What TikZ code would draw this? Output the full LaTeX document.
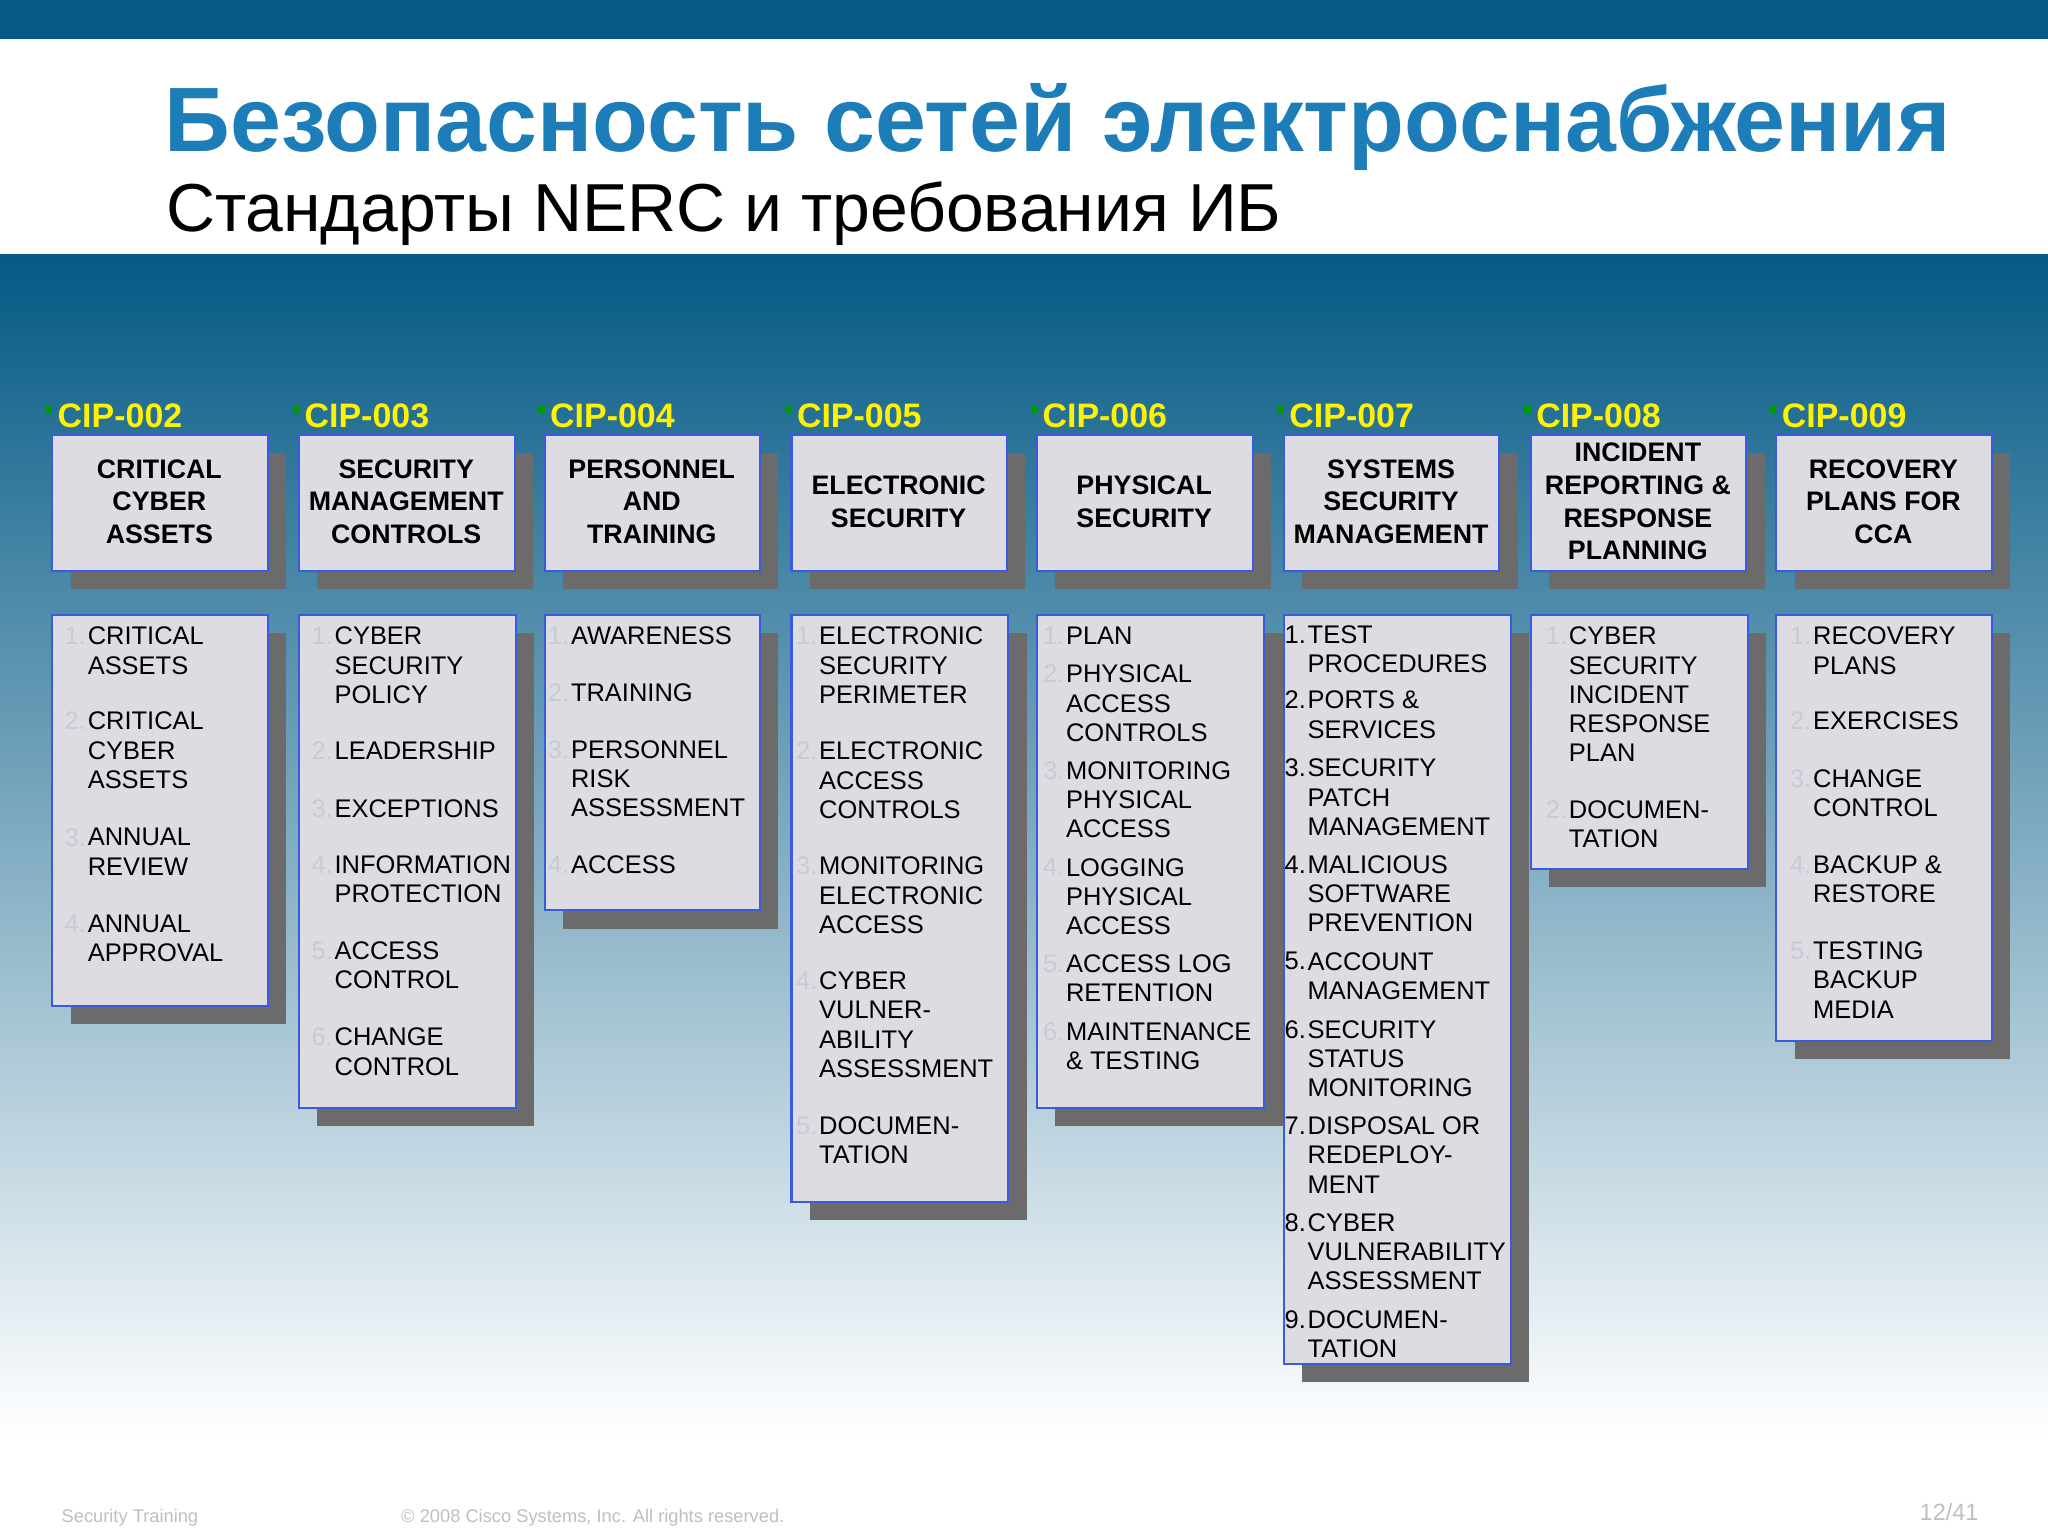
\documentclass[tikz,border=0pt]{standalone}
\usepackage{fontspec}
\setmainfont{Liberation Sans}
\definecolor{topbar}{HTML}{045A85}
\definecolor{ttl}{HTML}{1C7DB8}
\definecolor{bxfill}{HTML}{DCDCE2}
\definecolor{bxline}{HTML}{3A5BE0}
\definecolor{pale}{HTML}{C9CAD6}
\definecolor{cipy}{HTML}{FFF200}
\newcommand\numcol{pale}
\newcommand\li[5]{\node[item,anchor=north west] at (#1,{#3-8}) {#5};
  \node[item,text=\numcol,anchor=north east] at ({#1-1},{#3-8}) {#4.};}
\newcommand\col[6]{% left, name, header, bottom, headlines y, list width
  \fill[black!58] ({#1+14},347) rectangle ({#1+179},451);
  \fill[black!58] ({#1+14},485) rectangle ({#1+#6+14},{#4+14});
  \draw[box] (#1,333) rectangle ({#1+165},437);
  \draw[box] (#1,471) rectangle ({#1+#6},#4);
  \node[head] at ({#1+82},#5) {#3};
  \fill[green!60!black] ({#1-5},311) rectangle ({#1},316);
  \node[cip,anchor=base west] at ({#1+4},327) {#2};}
\begin{document}
\begin{tikzpicture}[x=1pt,y=-1pt,
  box/.style={fill=bxfill,draw=bxline,line width=1.6pt},
  item/.style={inner sep=0pt,align=left,font=\fontsize{19.5}{22.3}\selectfont},
  head/.style={inner sep=0pt,align=center,font=\bfseries\fontsize{20.5}{25}\selectfont},
  cip/.style={inner sep=0pt,text=cipy,font=\bfseries\fontsize{26}{28}\selectfont}]
\useasboundingbox (0,0) rectangle (1568,1176);
\fill[white] (0,0) rectangle (1568,1176);
\fill[topbar] (0,0) rectangle (1568,30);
\shade[top color=topbar,bottom color=white,middle color=topbar!50] (0,195) rectangle (1568,1100);
\fill[white] (0,1099) rectangle (1568,1176);
\node[anchor=base west,inner sep=0pt,text=ttl,font=\bfseries\fontsize{70}{74}\selectfont] (title) at (126,116) {Безопасность сетей электроснабжения};
\node[anchor=base west,inner sep=0pt,font=\fontsize{52}{56}\selectfont] (sub) at (127,177) {Стандарты NERC и требования ИБ};
% columns
\col{40}{CIP-002}{CRITICAL\\CYBER\\ASSETS}{770}{384}{165}
\col{229}{CIP-003}{SECURITY\\MANAGEMENT\\CONTROLS}{848}{384}{166}
\col{417}{CIP-004}{PERSONNEL\\AND\\TRAINING}{697}{384}{165}
\col{606}{CIP-005}{ELECTRONIC\\SECURITY}{920}{384}{166}
\col{794}{CIP-006}{PHYSICAL\\SECURITY}{848}{384}{174}
\col{983}{CIP-007}{SYSTEMS\\SECURITY\\MANAGEMENT}{1044}{384}{174}
\col{1172}{CIP-008}{INCIDENT\\REPORTING \&\\RESPONSE\\PLANNING}{665}{384}{166}
\col{1360}{CIP-009}{RECOVERY\\PLANS FOR\\CCA}{797}{384}{165}
% items
\li{67}{0}{488}{1}{CRITICAL\\ASSETS}
\li{67}{0}{553}{2}{CRITICAL\\CYBER\\ASSETS}
\li{67}{0}{642}{3}{ANNUAL\\REVIEW}
\li{67}{0}{708}{4}{ANNUAL\\APPROVAL}
\li{256}{0}{488}{1}{CYBER\\SECURITY\\POLICY}
\li{256}{0}{576}{2}{LEADERSHIP}
\li{256}{0}{620}{3}{EXCEPTIONS}
\li{256}{0}{663}{4}{INFORMATION\\PROTECTION}
\li{256}{0}{729}{5}{ACCESS\\CONTROL}
\li{256}{0}{795}{6}{CHANGE\\CONTROL}
\li{437}{0}{488}{1}{AWARENESS}
\li{437}{0}{531}{2}{TRAINING}
\li{437}{0}{575}{3}{PERSONNEL\\RISK\\ASSESSMENT}
\li{437}{0}{663}{4}{ACCESS}
\li{627}{0}{488}{1}{ELECTRONIC\\SECURITY\\PERIMETER}
\li{627}{0}{576}{2}{ELECTRONIC\\ACCESS\\CONTROLS}
\li{627}{0}{664}{3}{MONITORING\\ELECTRONIC\\ACCESS}
\li{627}{0}{752}{4}{CYBER\\VULNER-\\ABILITY\\ASSESSMENT}
\li{627}{0}{863}{5}{DOCUMEN-\\TATION}
\li{816}{0}{488}{1}{PLAN}
\li{816}{0}{517}{2}{PHYSICAL\\ACCESS\\CONTROLS}
\li{816}{0}{591}{3}{MONITORING\\PHYSICAL\\ACCESS}
\li{816}{0}{665}{4}{LOGGING\\PHYSICAL\\ACCESS}
\li{816}{0}{739}{5}{ACCESS LOG\\RETENTION}
\li{816}{0}{791}{6}{MAINTENANCE\\\& TESTING}
\renewcommand\numcol{black}
\li{1001}{0}{487}{1}{TEST\\PROCEDURES}
\li{1001}{0}{537}{2}{PORTS \&\\SERVICES}
\li{1001}{0}{589}{3}{SECURITY\\PATCH\\MANAGEMENT}
\li{1001}{0}{663}{4}{MALICIOUS\\SOFTWARE\\PREVENTION}
\li{1001}{0}{737}{5}{ACCOUNT\\MANAGEMENT}
\li{1001}{0}{789}{6}{SECURITY\\STATUS\\MONITORING}
\li{1001}{0}{863}{7}{DISPOSAL OR\\REDEPLOY-\\MENT}
\li{1001}{0}{937}{8}{CYBER\\VULNERABILITY\\ASSESSMENT}
\li{1001}{0}{1011}{9}{DOCUMEN-\\TATION}
\renewcommand\numcol{pale}
\li{1201}{0}{488}{1}{CYBER\\SECURITY\\INCIDENT\\RESPONSE\\PLAN}
\li{1201}{0}{621}{2}{DOCUMEN-\\TATION}
\li{1388}{0}{488}{1}{RECOVERY\\PLANS}
\li{1388}{0}{553}{2}{EXERCISES}
\li{1388}{0}{597}{3}{CHANGE\\CONTROL}
\li{1388}{0}{663}{4}{BACKUP \&\\RESTORE}
\li{1388}{0}{729}{5}{TESTING\\BACKUP\\MEDIA}
% footer
\node[anchor=base west,inner sep=0pt,text=black!25,font=\fontsize{14}{16}\selectfont] (f1) at (47,1166) {Security Training};
\node[anchor=base west,inner sep=0pt,text=black!25,font=\fontsize{14}{16}\selectfont] (f2) at (307,1166) {© 2008 Cisco Systems, Inc. All rights reserved.};
\node[anchor=base east,inner sep=0pt,text=black!25,font=\fontsize{18}{20}\selectfont] (f3) at (1515,1164) {12/41};
\end{tikzpicture}
\end{document}
